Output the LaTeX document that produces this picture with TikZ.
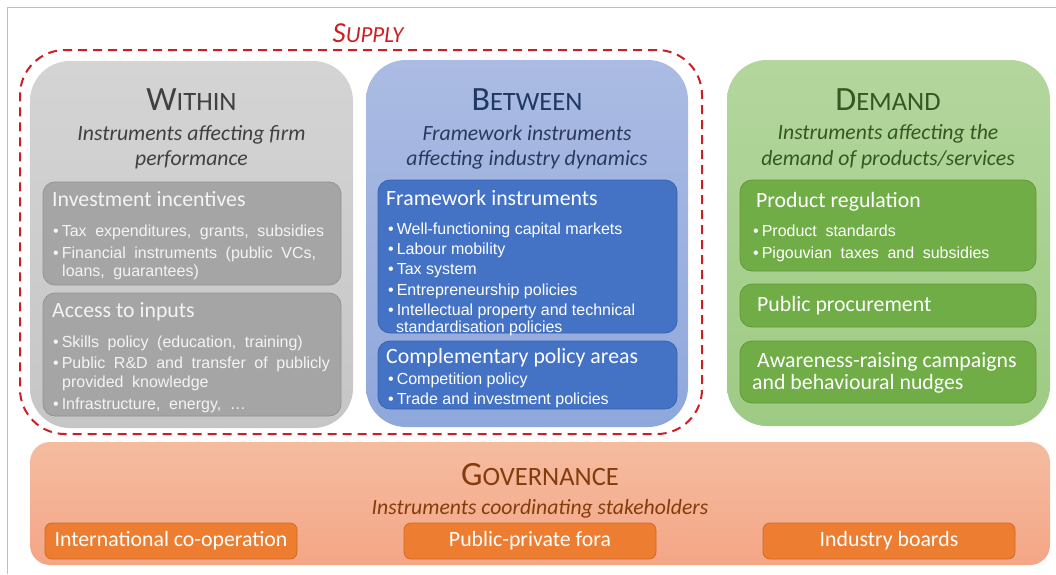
\documentclass[tikz,border=0pt]{standalone}
\usepackage{fontspec}
\setmainfont{Carlito}
\newfontfamily\arial{Liberation Sans}
\definecolor{wTop}{HTML}{D4D4D4}
\definecolor{wBot}{HTML}{C6C6C6}
\definecolor{gIn}{HTML}{A5A5A5}
\definecolor{gInB}{HTML}{939393}
\definecolor{bTop}{HTML}{ABBBE3}
\definecolor{bBot}{HTML}{8FA8DC}
\definecolor{bIn}{HTML}{4472C4}
\definecolor{bInB}{HTML}{3A63AD}
\definecolor{dTop}{HTML}{B3D69D}
\definecolor{dBot}{HTML}{9ECB84}
\definecolor{dIn}{HTML}{70AD47}
\definecolor{dInB}{HTML}{5E9A3A}
\definecolor{oTop}{HTML}{F5BCA0}
\definecolor{oBot}{HTML}{F4A686}
\definecolor{oIn}{HTML}{ED7D31}
\definecolor{oInB}{HTML}{CF6A25}
\definecolor{supred}{HTML}{CC1F24}
\definecolor{wTxt}{HTML}{404040}
\definecolor{bTxt}{HTML}{1F3864}
\definecolor{bSub}{HTML}{2B3A5C}
\definecolor{dTxt}{HTML}{375623}
\definecolor{oTxt}{HTML}{843C0C}
\definecolor{lightTxt}{HTML}{F4F4F4}
\newcommand\mysc[2]{{\fontsize{34}{34}\selectfont #1}{\fontsize{26.5}{26.5}\selectfont #2}}
\newcommand\supsc[2]{{\fontsize{29}{29}\selectfont #1}{\fontsize{23}{23}\selectfont #2}}
\newcommand\widesp{\spaceskip 8.6pt plus 1pt\relax}
\newcommand\bu{•\kern3pt}
\begin{document}
\begin{tikzpicture}[x=1pt,y=-1pt,
  panel/.style={rounded corners=40pt, inner sep=0pt, draw=none},
  inbox/.style={rounded corners=12pt, inner sep=0pt, line width=0.8pt},
  obox/.style={rounded corners=7pt, inner sep=0pt, line width=0.8pt, fill=oIn, draw=oInB,
     minimum width=252pt, minimum height=36pt, text=white, font=\fontsize{21.8}{26}\selectfont},
  head/.style={inner sep=0pt},
  subt/.style={inner sep=0pt, yshift=-2.5pt, font=\itshape\fontsize{21.7}{26}\selectfont},
  ititle/.style={inner sep=0pt, anchor=mid west, yshift=-4pt, font=\fontsize{21.8}{26}\selectfont},
  bul/.style={inner sep=0pt, anchor=mid west, yshift=-3.5pt, font=\arial\fontsize{16}{19}\selectfont},
  bulw/.style={bul, font=\arial\fontsize{16}{19}\selectfont\widesp},
]
\useasboundingbox (0,0) rectangle (1056,574);
\fill[white] (0,0) rectangle (1056,574);
\coordinate (fa) at (7,574);
\coordinate (fb) at (7,7);
\coordinate (fc) at (1056,7);
\draw[line width=1pt, color=black!25] (fa) -- (fb) -- (fc);

% supply dashed
\node[draw=supred, line width=2pt, dash pattern=on 9pt off 6pt, rounded corners=45pt,
  minimum width=682pt, minimum height=384pt] (supply) at (361,242) {};
\node[head, text=supred, font=\itshape] (suplab) at (368,33) {\supsc{S}{UPPLY}};

% WITHIN
\node[panel, top color=wTop, bottom color=wBot, minimum width=323pt, minimum height=367pt] (within) at (191.5,244.5) {};
\node[head, text=wTxt] (wt) at (191.5,99.5) {\mysc{W}{ITHIN}};
\node[subt, text=wTxt] (ws1) at (191.5,132) {Instruments affecting firm};
\node[subt, text=wTxt] (ws2) at (191.5,157) {performance};
\node[inbox, fill=gIn, draw=gInB, minimum width=298pt, minimum height=103pt] (inv) at (192,233.5) {};
\node[ititle, text=lightTxt] (invt) at (52,200) {Investment incentives};
\node[bulw, text=lightTxt] (inv1) at (53,231) {\bu Tax expenditures, grants, subsidies};
\node[bulw, text=lightTxt] (inv2) at (53,253) {\bu Financial instruments (public VCs,};
\node[bulw, text=lightTxt] (inv3) at (62,271) {loans, guarantees)};
\node[inbox, fill=gIn, draw=gInB, minimum width=298pt, minimum height=123pt] (acc) at (192,354.5) {};
\node[ititle, text=lightTxt] (acct) at (52,311) {Access to inputs};
\node[bulw, text=lightTxt] (acc1) at (53,342) {\bu Skills policy (education, training)};
\node[bulw, text=lightTxt] (acc2) at (53,363) {\bu Public R\&D and transfer of publicly};
\node[bulw, text=lightTxt] (acc3) at (62,382) {provided knowledge};
\node[bulw, text=lightTxt] (acc4) at (53,404) {\bu Infrastructure, energy, …};

% BETWEEN
\node[panel, top color=bTop, bottom color=bBot, minimum width=322pt, minimum height=367pt] (between) at (527,243.5) {};
\node[head, text=bTxt] (bt) at (527,99.5) {\mysc{B}{ETWEEN}};
\node[subt, text=bSub] (bs1) at (527,131) {Framework instruments};
\node[subt, text=bSub] (bs2) at (527,157) {affecting industry dynamics};
\node[inbox, fill=bIn, draw=bInB, minimum width=299pt, minimum height=153pt] (fw) at (527.5,256.5) {};
\node[ititle, text=white] (fwt) at (386,199) {Framework instruments};
\node[bul, text=white] (fw1) at (388,229) {\bu Well-functioning capital markets};
\node[bul, text=white] (fw2) at (388,249) {\bu Labour mobility};
\node[bul, text=white] (fw3) at (388,269) {\bu Tax system};
\node[bul, text=white] (fw4) at (388,290) {\bu Entrepreneurship policies};
\node[bul, text=white] (fw5) at (388,310) {\bu Intellectual property and technical};
\node[bul, text=white] (fw6) at (396,326.5) {standardisation policies};
\node[inbox, fill=bIn, draw=bInB, minimum width=299pt, minimum height=68pt] (cp) at (527.5,375) {};
\node[ititle, text=white] (cpt) at (386,357) {Complementary policy areas};
\node[bul, text=white] (cp1) at (388,379) {\bu Competition policy};
\node[bul, text=white] (cp2) at (388,399) {\bu Trade and investment policies};

% DEMAND
\node[panel, top color=dTop, bottom color=dBot, minimum width=323pt, minimum height=366pt] (demand) at (888.5,243) {};
\node[head, text=dTxt] (dt) at (888,99.5) {\mysc{D}{EMAND}};
\node[subt, text=dTxt] (ds1) at (888,131) {Instruments affecting the};
\node[subt, text=dTxt] (ds2) at (888,157) {demand of products/services};
\node[inbox, fill=dIn, draw=dInB, minimum width=296pt, minimum height=91pt] (pr) at (888,225.5) {};
\node[ititle, text=white] (prt) at (756,201) {Product regulation};
\node[bulw, text=white] (pr1) at (753,231) {\bu Product standards};
\node[bulw, text=white] (pr2) at (753,253) {\bu Pigouvian taxes and subsidies};
\node[inbox, fill=dIn, draw=dInB, minimum width=296pt, minimum height=43pt] (pp) at (888,305.5) {};
\node[ititle, text=white] (ppt) at (757,305) {Public procurement};
\node[inbox, fill=dIn, draw=dInB, minimum width=296pt, minimum height=62pt] (aw) at (888,372) {};
\node[ititle, text=white] (aw1) at (757,361) {Awareness-raising campaigns};
\node[ititle, text=white] (aw2) at (752,383) {and behavioural nudges};

% GOVERNANCE
\node[panel, rounded corners=20pt, top color=oTop, bottom color=oBot, minimum width=1020pt, minimum height=123pt] (gov) at (540,503.5) {};
\node[head, text=oTxt] (gt) at (540,475) {\mysc{G}{OVERNANCE}};
\node[subt, text=oTxt] (gs) at (540,506) {Instruments coordinating stakeholders};
\node[obox] (ic) at (171,541) {International co-operation};
\node[obox] (ppf) at (530,541) {Public-private fora};
\node[obox] (ib) at (889,541) {Industry boards};
\end{tikzpicture}
\end{document}
